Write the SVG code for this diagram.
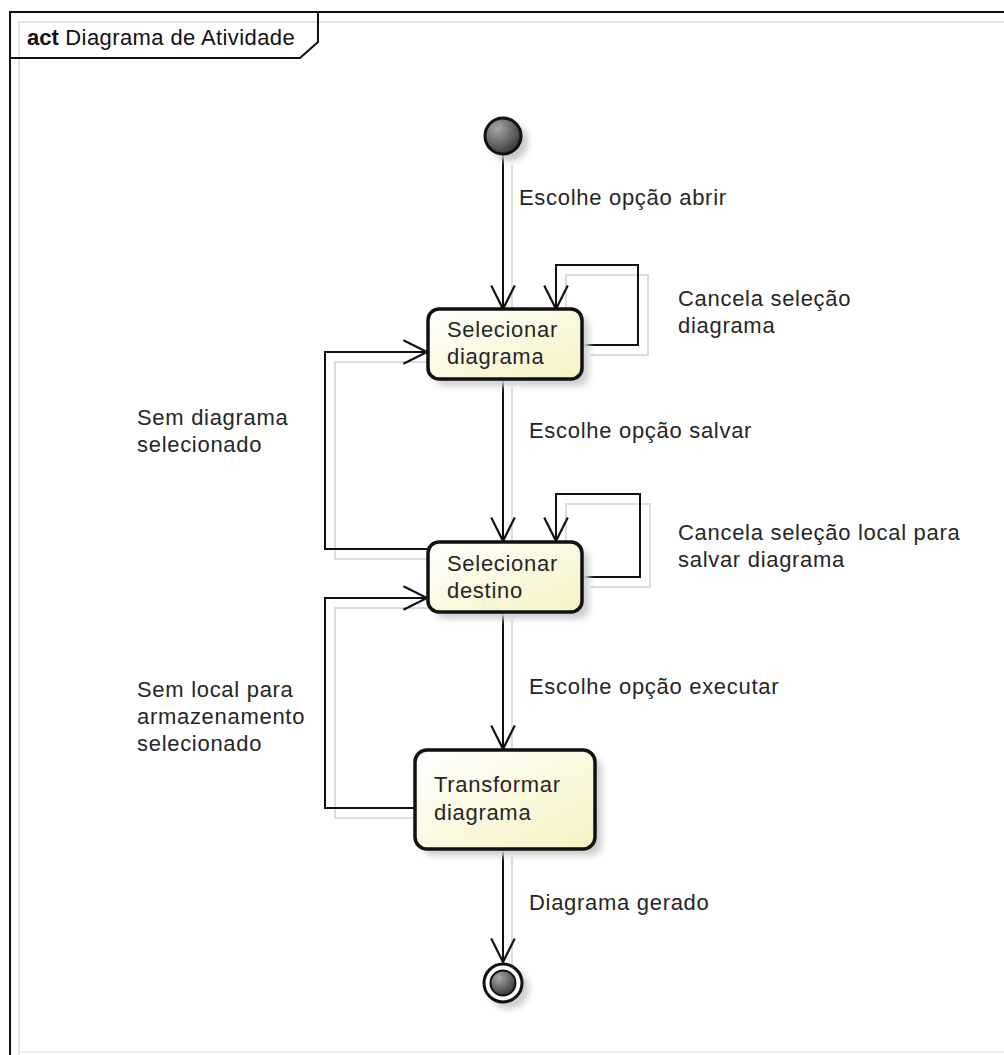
<svg xmlns="http://www.w3.org/2000/svg" width="1004" height="1055" viewBox="0 0 1004 1055">
  <defs>
    <style>
      .lbl { font-family: "Liberation Sans", Arial, sans-serif; font-size: 22px; letter-spacing: 0.7px; fill: #262626; }
      .ttl { font-family: "Liberation Sans", Arial, sans-serif; font-size: 22px; letter-spacing: 0.4px; fill: #111; }
      .edge { fill: none; stroke: #111; stroke-width: 2; }
      .shadow { fill: none; stroke: #dcdcdc; stroke-width: 2; }
      .act { fill: url(#actFill); stroke: #111; stroke-width: 3.5; }
    </style>
    <linearGradient id="actFill" x1="0" y1="0" x2="1" y2="1">
      <stop offset="0" stop-color="#ffffff"/>
      <stop offset="1" stop-color="#f6f3c2"/>
    </linearGradient>
    <radialGradient id="ballFill" cx="0.35" cy="0.3" r="0.8">
      <stop offset="0" stop-color="#a8a8a8"/>
      <stop offset="1" stop-color="#2e2e2e"/>
    </radialGradient>
    <filter id="soft" x="-30%" y="-30%" width="160%" height="160%">
      <feGaussianBlur stdDeviation="3"/>
    </filter>
    <marker id="open" markerUnits="userSpaceOnUse" markerWidth="30" markerHeight="30" viewBox="-24 -14 28 28" refX="0" refY="0" orient="auto">
      <path d="M-22,-11 L0,0 L-22,11" fill="none" stroke="#111" stroke-width="2"/>
    </marker>
  </defs>

  <rect width="1004" height="1055" fill="#ffffff"/>

  <!-- diagram frame -->
  <g id="frame">
    <path d="M19,1055 L19,22 L1004,22" fill="none" stroke="#e4e4e4" stroke-width="2"/>
    <line x1="19" y1="1052" x2="1004" y2="1052" stroke="#eeeeee" stroke-width="2"/>
    <path d="M10,1055 L10,12 L1004,12" fill="none" stroke="#111" stroke-width="2"/>
    <path d="M10,58 L300,58 L318,42 L318,12" fill="none" stroke="#111" stroke-width="2"/>
    <text class="ttl" x="27" y="45"><tspan font-weight="bold" letter-spacing="0">act</tspan> Diagrama de Atividade</text>
  </g>

  <!-- transitions -->
  <g id="connectors">
    <!-- soft offset copies of the lines -->
    <g class="shadow">
      <path d="M512,165 V318"/>
      <path d="M590,355 H648 V275 H566 V318"/>
      <path d="M512,388 V550"/>
      <path d="M436,559 H335 V362 H436"/>
      <path d="M590,587 H650 V504 H566 V550"/>
      <path d="M512,620 V758"/>
      <path d="M423,818 H335 V608 H436"/>
      <path d="M512,857 V970"/>
    </g>
    <path class="edge" d="M503,155 V309" marker-end="url(#open)"/>
    <path class="edge" d="M582,345 H638 V265 H556 V309" marker-end="url(#open)"/>
    <path class="edge" d="M503,380 V541" marker-end="url(#open)"/>
    <path class="edge" d="M428,549 H325 V352 H427" marker-end="url(#open)"/>
    <path class="edge" d="M582,577 H640 V494 H556 V541" marker-end="url(#open)"/>
    <path class="edge" d="M503,612 V749" marker-end="url(#open)"/>
    <path class="edge" d="M415,808 H325 V598 H427" marker-end="url(#open)"/>
    <path class="edge" d="M503,849 V962" marker-end="url(#open)"/>

    <text class="lbl" x="519" y="205">Escolhe opção abrir</text>
    <text class="lbl" x="678" y="306">Cancela seleção</text>
    <text class="lbl" x="678" y="333">diagrama</text>
    <text class="lbl" x="137" y="425">Sem diagrama</text>
    <text class="lbl" x="137" y="452">selecionado</text>
    <text class="lbl" x="529" y="438">Escolhe opção salvar</text>
    <text class="lbl" x="678" y="540">Cancela seleção local para</text>
    <text class="lbl" x="678" y="567">salvar diagrama</text>
    <text class="lbl" x="137" y="697">Sem local para</text>
    <text class="lbl" x="137" y="724">armazenamento</text>
    <text class="lbl" x="137" y="751">selecionado</text>
    <text class="lbl" x="529" y="694">Escolhe opção executar</text>
    <text class="lbl" x="529" y="910">Diagrama gerado</text>
  </g>

  <!-- start -->
  <g id="initial">
    <circle cx="509" cy="142" r="19" fill="#c8c8c8" filter="url(#soft)"/>
    <circle cx="503" cy="136" r="18" fill="url(#ballFill)" stroke="#111" stroke-width="3"/>
  </g>

  <g id="selecionar-diagrama">
    <rect x="435" y="316" width="154" height="70" rx="11" fill="#cfcfcf" filter="url(#soft)"/>
    <rect class="act" x="428" y="309" width="154" height="70" rx="11"/>
    <text class="lbl" x="447" y="337">Selecionar</text>
    <text class="lbl" x="447" y="364">diagrama</text>
  </g>

  <g id="selecionar-destino">
    <rect x="435" y="549" width="154" height="70" rx="11" fill="#cfcfcf" filter="url(#soft)"/>
    <rect class="act" x="428" y="542" width="154" height="70" rx="11"/>
    <text class="lbl" x="447" y="571">Selecionar</text>
    <text class="lbl" x="447" y="598">destino</text>
  </g>

  <g id="transformar-diagrama">
    <rect x="422" y="757" width="180" height="99" rx="12" fill="#cfcfcf" filter="url(#soft)"/>
    <rect class="act" x="415" y="750" width="180" height="99" rx="12"/>
    <text class="lbl" x="434" y="792">Transformar</text>
    <text class="lbl" x="434" y="820">diagrama</text>
  </g>

  <!-- end -->
  <g id="final">
    <circle cx="509" cy="989" r="20" fill="#cccccc" filter="url(#soft)"/>
    <circle cx="503" cy="983" r="19" fill="#ffffff" stroke="#111" stroke-width="3"/>
    <circle cx="503" cy="983" r="12.5" fill="url(#ballFill)" stroke="#111" stroke-width="2"/>
  </g>
</svg>
